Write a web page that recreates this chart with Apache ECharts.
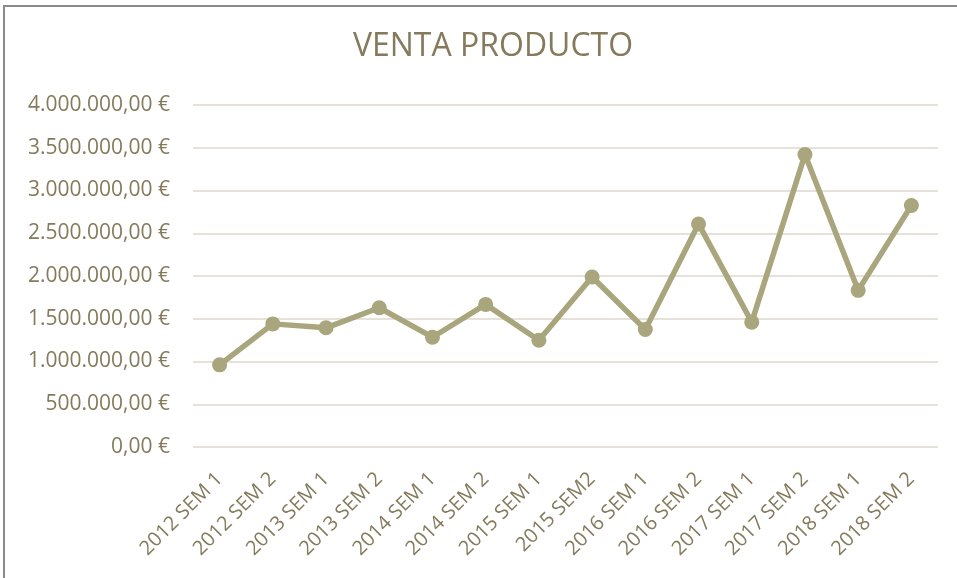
<!DOCTYPE html>
<html><head><meta charset="utf-8">
<script src="https://cdn.jsdelivr.net/npm/echarts@6/dist/echarts.min.js"></script>
<style>
html,body{margin:0;padding:0;background:#fff;}
#frame{position:absolute;left:3px;top:5px;width:1000px;height:700px;border-top:2px solid #8a8a8a;border-left:2px solid #8a8a8a;box-sizing:border-box;}
#c{position:absolute;left:0;top:0;width:957px;height:578px;}
</style></head>
<body>
<div id="frame"></div>
<div id="c"></div>
<script>
const categories = ['2012 SEM 1','2012 SEM 2','2013 SEM 1','2013 SEM 2','2014 SEM 1','2014 SEM 2','2015 SEM 1','2015 SEM2','2016 SEM 1','2016 SEM 2','2017 SEM 1','2017 SEM 2','2018 SEM 1','2018 SEM 2'];
const ventas = [961000,1440000,1394000,1629000,1284000,1668000,1248000,1988000,1374000,2609000,1460000,3420000,1832000,2824000];
const title = 'VENTA PRODUCTO';

function fmt(v){
  const s = Math.round(v).toString().replace(/\B(?=(\d{3})+(?!\d))/g,'.');
  return s + ',00 €';
}
const textColor = '#857a5b';
const chart = echarts.init(document.getElementById('c'), null, {renderer:'canvas'});
chart.setOption({
  backgroundColor: 'transparent',
  animation: false,
  title: {
    text: title, left: 488, textAlign: 'center', top: 26,
    textStyle: {color: textColor, fontSize: 32, fontWeight: 'normal', fontFamily: "'Open Sans',sans-serif"}
  },
  grid: {left: 193, right: 19, top: 105, bottom: 131},
  xAxis: {
    type: 'category', data: categories, boundaryGap: true,
    axisLine: {show: false}, axisTick: {show: false},
    axisLabel: {rotate: 45, color: textColor, fontSize: 20, fontFamily: "'Open Sans',sans-serif", margin: 29, interval: 0}
  },
  yAxis: {
    type: 'value', min: 0, max: 4000000, interval: 500000,
    axisLine: {show: false}, axisTick: {show: false},
    splitLine: {lineStyle: {color: '#e6e2d9', width: 2}},
    axisLabel: {color: textColor, fontSize: 21, fontFamily: "'Open Sans',sans-serif", margin: 23, formatter: fmt}
  },
  series: [{
    type: 'line', data: ventas,
    symbol: 'circle', symbolSize: 15,
    lineStyle: {color: '#a9a57c', width: 5.5},
    itemStyle: {color: '#a9a57c'}
  }]
});
</script>
</body></html>
